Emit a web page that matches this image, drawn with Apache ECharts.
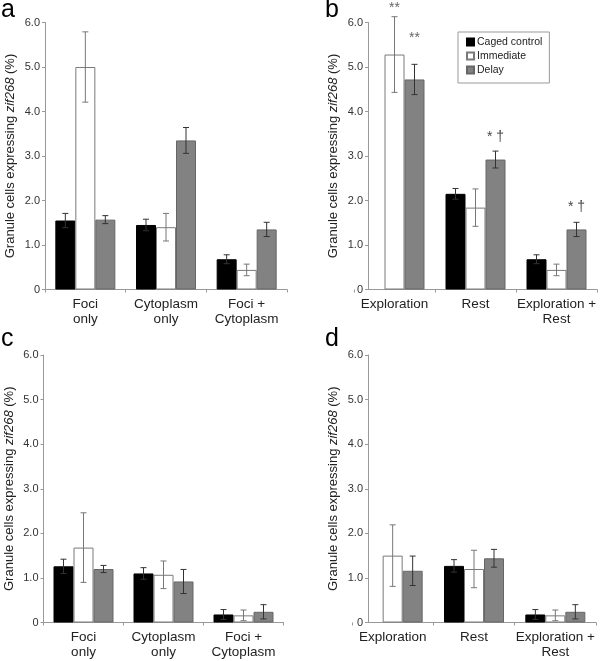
<!DOCTYPE html>
<html>
<head>
<meta charset="utf-8">
<script src="https://cdn.jsdelivr.net/npm/echarts@6/dist/echarts.min.js"></script>
<style>html,body{margin:0;padding:0;background:#fff}#c{width:600px;height:661px}</style>
</head>
<body>
<div id="c"></div>
<script>
// ---- data ----
const seriesNames = ['Caged control', 'Immediate', 'Delay'];
const catsAC = ['Foci\nonly', 'Cytoplasm\nonly', 'Foci +\nCytoplasm'];
const catsBD = ['Exploration', 'Rest', 'Exploration +\nRest'];
const yTicks = [0, 1, 2, 3, 4, 5, 6];

const aCaged = [1.55, 1.45, 0.68];  const aCagedErr = [0.16, 0.13, 0.10];
const aImm   = [5.00, 1.40, 0.44];  const aImmErr   = [0.79, 0.31, 0.13];
const aDelay = [1.57, 3.35, 1.35];  const aDelayErr = [0.09, 0.29, 0.16];

const bCaged = [null, 2.15, 0.68];  const bCagedErr = [0, 0.12, 0.10];
const bImm   = [5.28, 1.84, 0.44];  const bImmErr   = [0.85, 0.42, 0.13];
const bDelay = [4.72, 2.92, 1.35];  const bDelayErr = [0.34, 0.19, 0.16];

const cCaged = [1.26, 1.10, 0.18];  const cCagedErr = [0.16, 0.13, 0.11];
const cImm   = [1.68, 1.07, 0.16];  const cImmErr   = [0.78, 0.31, 0.12];
const cDelay = [1.20, 0.92, 0.24];  const cDelayErr = [0.08, 0.27, 0.16];

const dCaged = [null, 1.27, 0.18];  const dCagedErr = [0, 0.14, 0.11];
const dImm   = [1.50, 1.20, 0.16];  const dImmErr   = [0.69, 0.42, 0.12];
const dDelay = [1.16, 1.44, 0.24];  const dDelayErr = [0.33, 0.20, 0.16];

// significance marks in panel b: category, series index, value position, text
const bMarkCat = [0, 0, 1, 2];
const bMarkSer = [1, 2, 2, 2];
const bMarkVal = [6.17, 5.48, 3.27, 1.69];
const bMarkTxt = ['**', '**', '* \u2020', '* \u2020'];

const panelLetters = ['a', 'b', 'c', 'd'];

// ---- style ----
const FONT = 'Liberation Sans, Arial, Helvetica, sans-serif';
const BAR_W = 20;
const CAP = 3;
const AXIS_COL = '#999';
const barStyles = [
  {color: '#000', borderColor: '#000', borderWidth: 1},
  {color: '#fff', borderColor: '#7a7a7a', borderWidth: 1},
  {color: '#828282', borderColor: '#666', borderWidth: 1}
];
const errColors = ['#333', '#777', '#333'];

const chart = echarts.init(document.getElementById('c'), null, {renderer: 'canvas'});

const grids = [
  {left: 45, top: 22.5, width: 242, height: 267},   // 0 a
  {left: 354, top: 22.5, width: 243, height: 267},  // 1 b bars
  {left: 368, top: 22.5, width: 229, height: 267},  // 2 b axes
  {left: 43.5, top: 355, width: 240, height: 267.5},// 3 c
  {left: 352, top: 355, width: 244, height: 267.5}, // 4 d bars
  {left: 368, top: 355, width: 228, height: 267.5}  // 5 d axes
];

function yAxisVisible(gi) {
  return {
    type: 'value', gridIndex: gi, min: yTicks[0], max: yTicks[yTicks.length - 1], interval: 1,
    axisLine: {show: true, lineStyle: {color: AXIS_COL, width: 1}},
    axisTick: {show: true, length: 3, lineStyle: {color: AXIS_COL}},
    splitLine: {show: false},
    axisLabel: {color: '#333', fontSize: 11, fontFamily: FONT, margin: 5,
      formatter: v => v === 0 ? '0' : v.toFixed(1)},
    name: 'Granule cells expressing {i|zif268} (%)',
    nameLocation: 'middle', nameRotate: 90, nameGap: 28,
    nameTextStyle: {color: '#222', fontSize: 13, fontFamily: FONT,
      rich: {i: {fontStyle: 'italic', fontSize: 13, fontFamily: FONT, color: '#222'}}}
  };
}
function yAxisHidden(gi) {
  return {type: 'value', gridIndex: gi, min: yTicks[0], max: yTicks[yTicks.length - 1], interval: 1, show: false};
}
function xAxisCat(gi, cats, showLine) {
  return {
    type: 'category', gridIndex: gi, data: cats,
    axisLine: {show: showLine, lineStyle: {color: AXIS_COL, width: 1}},
    axisTick: {show: true, length: 3, lineStyle: {color: AXIS_COL}},
    axisLabel: {color: '#222', fontSize: 13.5, fontFamily: FONT, lineHeight: 15, margin: 7, interval: 0}
  };
}
function xAxisLineOnly(gi) {
  return {
    type: 'category', gridIndex: gi, data: [''],
    axisLine: {show: true, lineStyle: {color: AXIS_COL, width: 1}},
    axisTick: {show: false}, axisLabel: {show: false}
  };
}

const xAxes = [
  xAxisCat(0, catsAC, true),
  xAxisCat(1, catsBD, false),
  xAxisLineOnly(2),
  xAxisCat(3, catsAC, true),
  xAxisCat(4, catsBD, false),
  xAxisLineOnly(5)
];
const yAxes = [
  yAxisVisible(0), yAxisHidden(1), yAxisVisible(2),
  yAxisVisible(3), yAxisHidden(4), yAxisVisible(5)
];

const panels = [
  {axis: 0, vals: [aCaged, aImm, aDelay], errs: [aCagedErr, aImmErr, aDelayErr]},
  {axis: 1, vals: [bCaged, bImm, bDelay], errs: [bCagedErr, bImmErr, bDelayErr]},
  {axis: 3, vals: [cCaged, cImm, cDelay], errs: [cCagedErr, cImmErr, cDelayErr]},
  {axis: 4, vals: [dCaged, dImm, dDelay], errs: [dCagedErr, dImmErr, dDelayErr]}
];

const series = [];
panels.forEach(p => {
  p.vals.forEach((vals, k) => {
    series.push({
      type: 'bar', name: seriesNames[k], xAxisIndex: p.axis, yAxisIndex: p.axis,
      data: vals, barWidth: BAR_W, barGap: '0%', itemStyle: barStyles[k],
      emphasis: {disabled: true}, animation: false, z: 2
    });
  });
  p.vals.forEach((vals, k) => {
    const data = [];
    vals.forEach((v, i) => { if (v != null) data.push([i, v, p.errs[k][i]]); });
    series.push({
      type: 'custom', xAxisIndex: p.axis, yAxisIndex: p.axis, data: data, z: 3,
      animation: false, silent: true,
      renderItem: (params, api) => {
        const ci = api.value(0), v = api.value(1), e = api.value(2);
        const x = api.coord([ci, v])[0] + (k - 1) * BAR_W;
        const yt = api.coord([ci, v + e])[1];
        const yb = api.coord([ci, v - e])[1];
        const st = {stroke: errColors[k], lineWidth: 1};
        return {type: 'group', children: [
          {type: 'line', shape: {x1: x, y1: yt, x2: x, y2: yb}, style: st},
          {type: 'line', shape: {x1: x - CAP, y1: yt, x2: x + CAP, y2: yt}, style: st},
          {type: 'line', shape: {x1: x - CAP, y1: yb, x2: x + CAP, y2: yb}, style: st}
        ]};
      }
    });
  });
});

// significance marks in panel b
series.push({
  type: 'custom', xAxisIndex: 1, yAxisIndex: 1, z: 4, clip: false, animation: false, silent: true,
  data: bMarkCat.map((c, i) => [c, bMarkVal[i], bMarkSer[i], i]),
  renderItem: (params, api) => {
    const c = api.coord([api.value(0), api.value(1)]);
    const k = api.value(2);
    const txt = bMarkTxt[api.value(3)];
    return {type: 'text', x: c[0] + (k - 1) * BAR_W, y: c[1],
      style: {text: txt, fill: txt === '**' ? '#666' : '#444', fontSize: 14, fontFamily: FONT,
        align: 'center', verticalAlign: 'bottom'}};
  }
});

const titles = [
  {text: panelLetters[0], left: 1, top: -2},
  {text: panelLetters[1], left: 325, top: -2},
  {text: panelLetters[2], left: 1, top: 327},
  {text: panelLetters[3], left: 325, top: 327}
].map(t => Object.assign(t, {padding: 0, textStyle: {fontSize: 25, fontWeight: 'normal', color: '#000', fontFamily: FONT}}));

chart.setOption({
  backgroundColor: '#fff',
  animation: false,
  title: titles,
  grid: grids,
  xAxis: xAxes,
  yAxis: yAxes,
  legend: {
    data: seriesNames, left: 458, top: 32, orient: 'vertical',
    icon: 'rect', itemWidth: 7, itemHeight: 7, itemGap: 2,
    selectedMode: false,
    borderColor: '#999', borderWidth: 1, padding: [4, 7, 7, 8],
    textStyle: {fontSize: 10.5, color: '#222', fontFamily: FONT, lineHeight: 12, padding: [0, 0, 0, -2]}
  },
  series: series
});
</script>
</body>
</html>
